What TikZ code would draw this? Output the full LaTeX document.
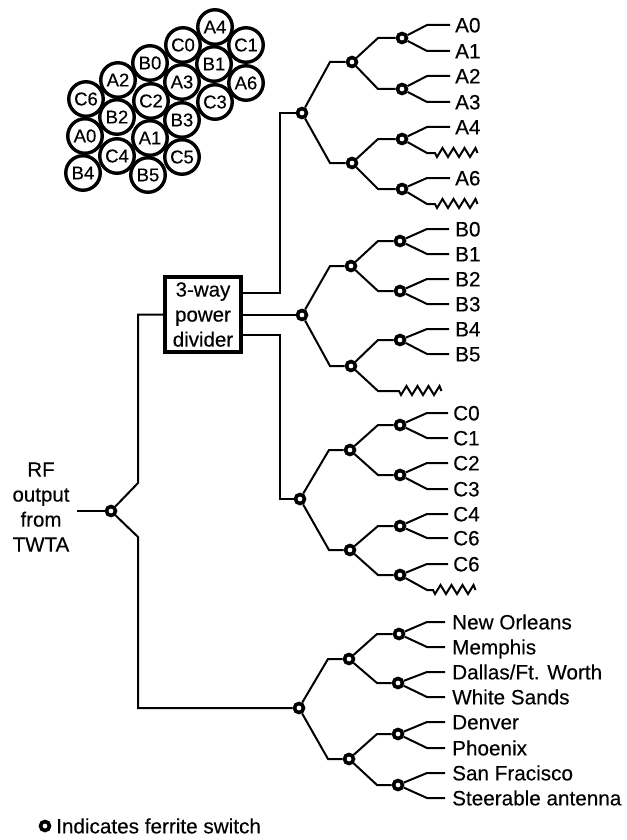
\documentclass[tikz,border=0pt]{standalone}
\usepackage{fontspec}
\setmainfont{Liberation Sans}[FakeBold=0.25]
\tikzset{
  x=1pt,y=-1pt,
  wire/.style={line width=2pt,line join=miter},
  sw/.style={circle,draw,fill=white,line width=3.6pt,minimum size=9pt,inner sep=0pt},
  leaf/.style={anchor=west,inner sep=0pt,font=\fontsize{20.7}{24}\selectfont,text height=14.7pt,text depth=0pt},
  cell/.style={circle,draw,fill=white,line width=3.4pt,minimum size=34.5pt,inner sep=0pt,font=\fontsize{18.5}{20}\selectfont},
  divider/.style={draw,line width=3.2pt,minimum width=76pt,minimum height=75pt,inner sep=0pt,align=center,font=\fontsize{20.5}{25}\selectfont},
  plain/.style={inner sep=0pt,align=center,font=\fontsize{20.5}{25}\selectfont},
}
% \swn name x y
\newcommand{\swn}[3]{\node[sw] (#1) at (#2,#3) {};}
% branch: from, to, elbow x
\newcommand{\brn}[3]{\draw[wire] (#1) -- (#3,0 |- #2) -- (#2);}
% output wire: switch, leaf node, gap before the text
\newcommand{\lf}[3]{\draw[wire,shorten >=#3] (#1) -- (427,0 |- #2) -- (#2.west);}
\newcommand{\lbl}[4]{\node[leaf] (#1) at (#2,#3) {#4};}
% resistive load: switch, elbow x, coordinate where the zigzag starts
\newcommand{\load}[3]{\draw[wire] (#1) -- (#2,0 |- #3) -- (#3) -- ++(2,4) -- ++(5.5,-9) -- ++(5.5,9) -- ++(5.5,-9) -- ++(5.5,9) -- ++(5.5,-9) -- ++(5.5,9) -- ++(5.5,-9) -- ++(2,5);}
\begin{document}
\begin{tikzpicture}
\useasboundingbox (0,0) rectangle (626,840);
% beam cells
\node[cell] (cA4) at (215,27) {A4};
\node[cell] (cC1) at (246,45) {C1};
\node[cell] (cC0) at (183,45) {C0};
\node[cell] (cB1) at (214,64) {B1};
\node[cell] (cB0) at (150,63) {B0};
\node[cell] (cA3) at (182,82) {A3};
\node[cell] (cA6) at (246,83) {A6};
\node[cell] (cA2) at (118,80) {A2};
\node[cell] (cC2) at (151,101) {C2};
\node[cell] (cC3) at (215,102) {C3};
\node[cell] (cC6) at (86,99) {C6};
\node[cell] (cB2) at (117,117) {B2};
\node[cell] (cB3) at (182,120) {B3};
\node[cell] (cA0) at (85,136) {A0};
\node[cell] (cA1) at (150,138) {A1};
\node[cell] (cC4) at (117,156) {C4};
\node[cell] (cC5) at (182,157) {C5};
\node[cell] (cB4) at (83,173) {B4};
\node[cell] (cB5) at (148,175) {B5};
% divider and input
\node[divider] (div) at (203,314.5) {3-way\\power\\divider};
\node[plain] (rf) at (41,507) {RF\\output\\from\\TWTA};
\coordinate (in) at (77,511);
\swn{s0}{111}{511}
% Tree A
\swn{a}{302}{113}
\swn{a1}{352}{62}\swn{a2}{352}{163}
\swn{a11}{402}{38}\swn{a12}{402}{89}\swn{a21}{402}{139}\swn{a22}{402}{189}
\lbl{A0}{455}{25}{A0}\lbl{A1}{455}{51}{A1}\lbl{A2}{455}{76}{A2}\lbl{A3}{455}{102}{A3}
\lbl{A4}{455}{127}{A4}\lbl{A6}{455}{178}{A6}
\coordinate (ra) at (435,153);\coordinate (rb) at (435,204);
% Tree B
\swn{b}{302}{315}
\swn{b1}{351}{266}\swn{b2}{351}{366}
\swn{b11}{400}{241}\swn{b12}{400}{291}\swn{b21}{400}{340}
\lbl{B0}{455}{229}{B0}\lbl{B1}{455}{254}{B1}\lbl{B2}{455}{279}{B2}\lbl{B3}{455}{304}{B3}
\lbl{B4}{455}{329}{B4}\lbl{B5}{455}{354}{B5}
\coordinate (rc) at (399,391);
% Tree C
\swn{c}{300}{499}
\swn{c1}{350}{450}\swn{c2}{350}{550}
\swn{c11}{400}{425}\swn{c12}{400}{475}\swn{c21}{400}{526}\swn{c22}{400}{575}
\lbl{C0}{453}{413}{C0}\lbl{C1}{453}{438}{C1}\lbl{C2}{453}{463}{C2}\lbl{C3}{453}{489}{C3}
\lbl{C4}{453}{514}{C4}\lbl{C6a}{453}{538}{C6}\lbl{C6b}{453}{564}{C6}
\coordinate (rd) at (433,590);
% Tree D
\swn{d}{299}{708}
\swn{d1}{349}{659}\swn{d2}{349}{759}
\swn{d11}{399}{634}\swn{d12}{398}{683}\swn{d21}{398}{734}\swn{d22}{398}{785}
\lbl{NO}{452}{622}{New Orleans}\lbl{ME}{452}{647}{Memphis}\lbl{DF}{452}{672}{Dallas/Ft. Worth}\lbl{WS}{452}{697}{White Sands}
\lbl{DE}{452}{722}{Denver}\lbl{PH}{452}{748}{Phoenix}\lbl{SF}{452}{773}{San Fracisco}\lbl{SA}{452}{798}{Steerable antenna}
% Legend
\node[sw] (legend) at (45,826) {};
\node[leaf] (legendtext) at (56,826) {Indicates ferrite switch};
% Input wiring
\draw[wire] (in) -- (s0);
\draw[wire] (s0) -- (138,483) -- (138,0 |- div.west) -- (div.west);
\draw[wire] (s0) -- (138,537) -- (138,0 |- d) -- (d);
% Divider outputs
\coordinate (o1) at (div.east |- 0,293);
\coordinate (o3) at (div.east |- 0,335);
\draw[wire] (o1) -- (280,293) -- (280,0 |- a) -- (a);
\draw[wire] (div.east |- b) -- (b);
\draw[wire] (o3) -- (280,335) -- (280,0 |- c) -- (c);
% Tree wiring
\brn{a}{a1}{330}\brn{a}{a2}{330}
\brn{a1}{a11}{378}\brn{a1}{a12}{378}\brn{a2}{a21}{378}\brn{a2}{a22}{378}
\lf{a11}{A0}{5pt}\lf{a11}{A1}{5pt}\lf{a12}{A2}{5pt}\lf{a12}{A3}{5pt}\lf{a21}{A4}{5pt}\lf{a22}{A6}{5pt}
\load{a21}{427}{ra}\load{a22}{427}{rb}
\brn{b}{b1}{330}\brn{b}{b2}{330}
\brn{b1}{b11}{378}\brn{b1}{b12}{378}\brn{b2}{b21}{378}
\lf{b11}{B0}{6pt}\lf{b11}{B1}{6pt}\lf{b12}{B2}{6pt}\lf{b12}{B3}{6pt}\lf{b21}{B4}{6pt}\lf{b21}{B5}{6pt}
\load{b2}{378}{rc}
\brn{c}{c1}{329}\brn{c}{c2}{329}
\brn{c1}{c11}{378}\brn{c1}{c12}{378}\brn{c2}{c21}{378}\brn{c2}{c22}{378}
\lf{c11}{C0}{5pt}\lf{c11}{C1}{5pt}\lf{c12}{C2}{5pt}\lf{c12}{C3}{5pt}\lf{c21}{C4}{5pt}\lf{c21}{C6a}{5pt}\lf{c22}{C6b}{5pt}
\load{c22}{427}{rd}
\brn{d}{d1}{328}\brn{d}{d2}{328}
\brn{d1}{d11}{377}\brn{d1}{d12}{377}\brn{d2}{d21}{377}\brn{d2}{d22}{377}
\lf{d11}{NO}{7pt}\lf{d11}{ME}{7pt}\lf{d12}{DF}{7pt}\lf{d12}{WS}{7pt}\lf{d21}{DE}{7pt}\lf{d21}{PH}{7pt}\lf{d22}{SF}{7pt}\lf{d22}{SA}{7pt}
\end{tikzpicture}
\end{document}
